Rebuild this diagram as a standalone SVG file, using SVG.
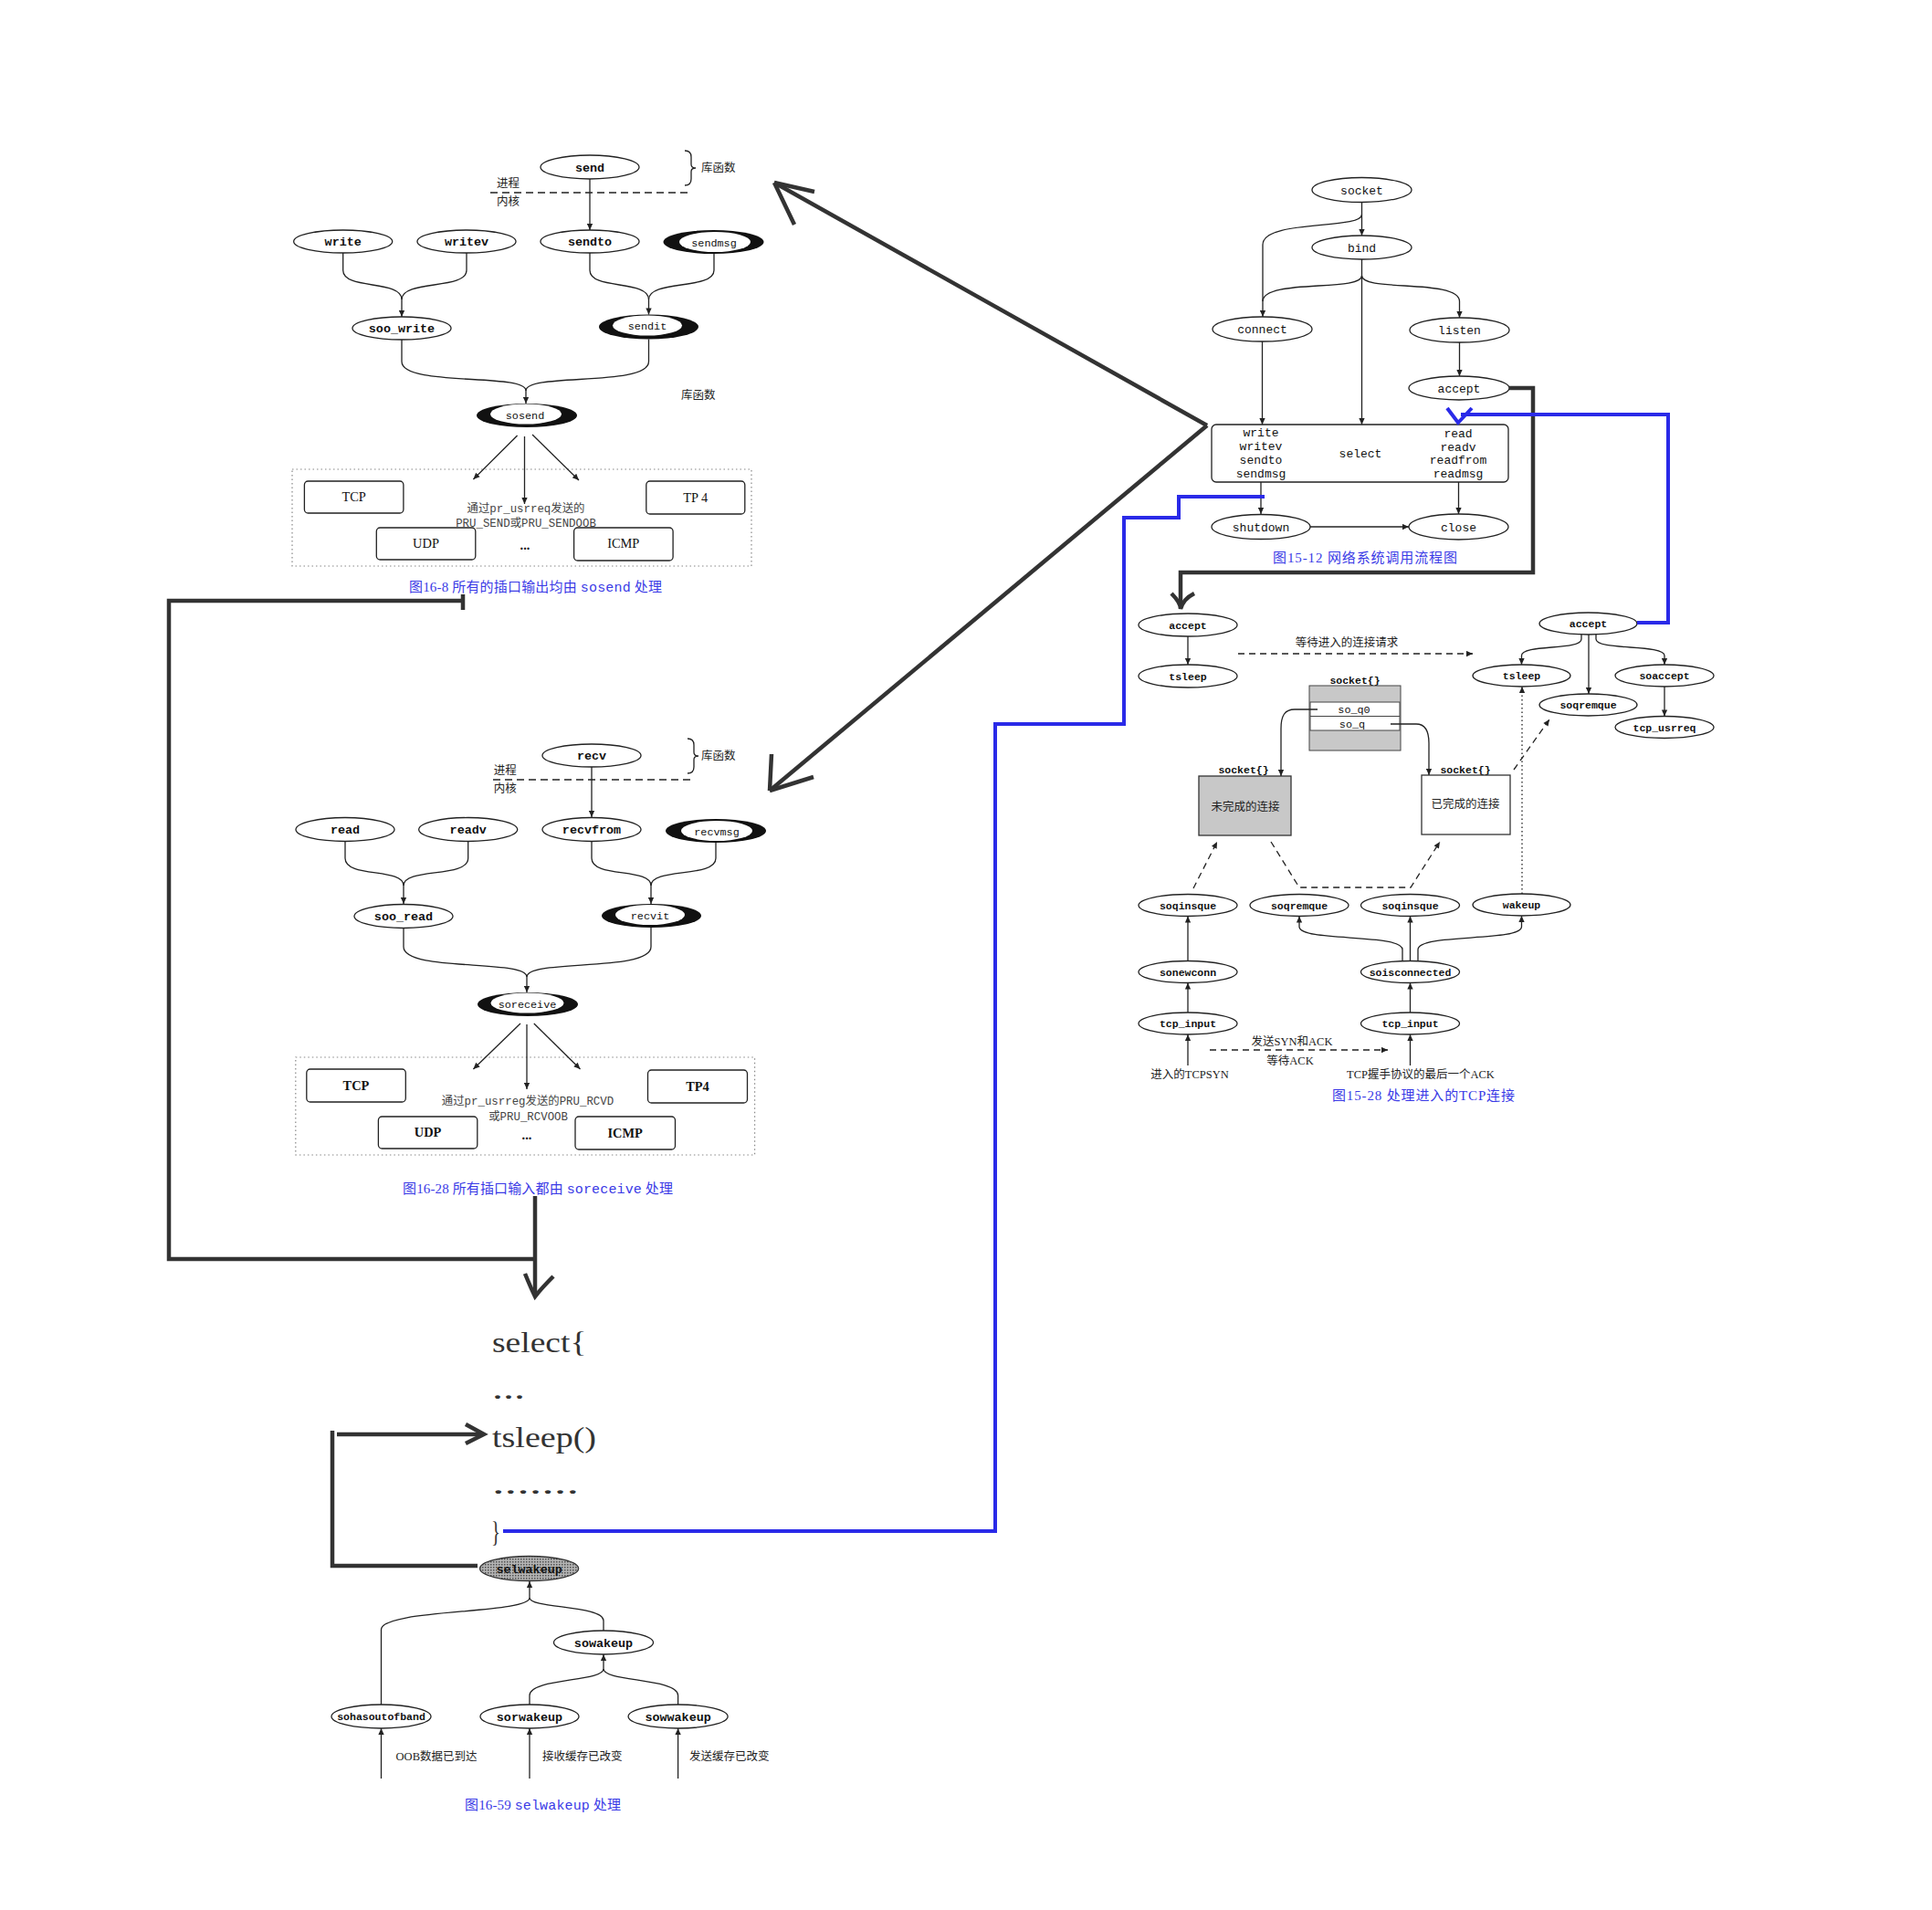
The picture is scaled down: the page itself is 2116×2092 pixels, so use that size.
<svg xmlns="http://www.w3.org/2000/svg" width="2116" height="2092" viewBox="0 0 2116 2092">
<defs>
<marker id="ah" viewBox="0 0 10 10" refX="10" refY="5" markerWidth="9" markerHeight="7" orient="auto" markerUnits="userSpaceOnUse"><path d="M0,0.5 L10,5 L0,9.5 z" fill="#222"/></marker>
<pattern id="grain" width="3" height="3" patternUnits="userSpaceOnUse"><rect width="3" height="3" fill="#b4b4b4"/><rect width="1.5" height="1.5" fill="#505050"/></pattern>
<style>
.e{fill:#fff;stroke:#222;stroke-width:1.3}
.dk{fill:#111}
.w{fill:#fff}
.l{fill:none;stroke:#222;stroke-width:1.3}
.la{fill:none;stroke:#222;stroke-width:1.3;marker-end:url(#ah)}
.da{fill:none;stroke:#222;stroke-width:1.3;stroke-dasharray:7,5;marker-end:url(#ah)}
.dot{fill:none;stroke:#888;stroke-width:1.2;stroke-dasharray:1.5,3}
.box{fill:#fff;stroke:#222;stroke-width:1.3}
.n{font-family:"Liberation Mono",monospace;font-size:13.4px;font-weight:bold;text-anchor:middle;fill:#111}
.nr{font-family:"Liberation Mono",monospace;font-size:13px;text-anchor:middle;fill:#111}
.ns{font-family:"Liberation Mono",monospace;font-size:11.5px;font-weight:bold;text-anchor:middle;fill:#111}
.nd{font-family:"Liberation Mono",monospace;font-size:11.8px;text-anchor:middle;fill:#111}
.cn{font-family:"Liberation Serif","Noto Sans CJK SC",serif;font-size:12.5px;fill:#222}
.cm{font-family:"Liberation Mono","Noto Sans CJK SC",monospace;font-size:12.4px;fill:#444;text-anchor:middle}
.pr{font-family:"Liberation Serif",serif;font-size:14.4px;text-anchor:middle;fill:#111}
.prb{font-family:"Liberation Serif",serif;font-size:14.4px;font-weight:bold;text-anchor:middle;fill:#111}
.cap{font-family:"Liberation Serif","Noto Sans CJK SC",serif;font-size:15px;fill:#3a3ae6;text-anchor:middle}
.capm{font-family:"Liberation Mono",monospace}
.code{font-family:"Liberation Serif",serif;font-size:31px;fill:#333}
.thick{fill:none;stroke:#333;stroke-width:4.5;stroke-linejoin:miter}
.blue{fill:none;stroke:#2a2ae8;stroke-width:4}
</style>
</defs>
<rect width="2116" height="2092" fill="#fff"/>

<!-- ================= Figure 16-8 ================= -->
<g id="fig16-8">
<path class="l" d="M537,211 H754" stroke-dasharray="8,5"/>
<path class="l" d="M750,165 Q757,165 757,172 V180 Q757,184 762,184 Q757,184 757,188 V196 Q757,203 750,203"/>
<text class="cn" x="768" y="188">库函数</text>
<text class="cn" x="544" y="205">进程</text>
<text class="cn" x="544" y="225">内核</text>
<text class="cn" x="746" y="437">库函数</text>
<rect class="dot" x="320" y="514" width="503" height="106"/>
<text class="cm" x="576" y="561">通过pr_usrreq发送的</text>
<text class="cm" x="576" y="577">PRU_SEND或PRU_SENDOOB</text>
<text class="pr" x="575" y="602" font-weight="bold">...</text>
<text class="cap" x="586.5" y="648" textLength="277" lengthAdjust="spacing">图16-8  所有的插口输出均由 <tspan class="capm">sosend</tspan>  处理</text>
</g>
<g id="n-send"><ellipse class="e" cx="646" cy="183" rx="54" ry="13"/><text class="n" x="646" y="187.5">send</text></g>
<g id="n-write"><ellipse class="e" cx="375.7" cy="264.5" rx="54" ry="12.5"/><text class="n" x="375.7" y="269">write</text></g>
<g id="n-writev"><ellipse class="e" cx="511" cy="264.5" rx="54" ry="12.5"/><text class="n" x="511" y="269">writev</text></g>
<g id="n-sendto"><ellipse class="e" cx="646" cy="264.5" rx="54" ry="12.5"/><text class="n" x="646" y="269">sendto</text></g>
<g id="n-sendmsg"><ellipse class="dk" cx="781.5" cy="265" rx="55" ry="13"/><ellipse class="w" cx="783" cy="265" rx="39" ry="11"/><text class="nd" x="782" y="269.5">sendmsg</text></g>
<g id="n-soo_write"><ellipse class="e" cx="440" cy="359.5" rx="54" ry="12.5"/><text class="n" x="440" y="364">soo_write</text></g>
<g id="n-sendit"><ellipse class="dk" cx="710.5" cy="358" rx="54.5" ry="13.5"/><ellipse class="w" cx="709" cy="356.5" rx="38" ry="11"/><text class="nd" x="709" y="361">sendit</text></g>
<g id="n-sosend"><ellipse class="dk" cx="577" cy="455" rx="55" ry="13"/><ellipse class="w" cx="576" cy="453.5" rx="39" ry="11"/><text class="nd" x="575" y="458.5">sosend</text></g>
<g id="n-tcp1"><rect class="box" x="333.4" y="527" width="108.5" height="35" rx="4"/><text class="pr" x="387.6" y="549">TCP</text></g>
<g id="n-tp41"><rect class="box" x="707.8" y="527" width="108" height="36" rx="4"/><text class="pr" x="761.8" y="549.5">TP 4</text></g>
<g id="n-udp1"><rect class="box" x="412.3" y="578" width="108.5" height="35" rx="4"/><text class="pr" x="466.5" y="600">UDP</text></g>
<g id="n-icmp1"><rect class="box" x="628.6" y="578" width="108.5" height="36" rx="4"/><text class="pr" x="682.8" y="600">ICMP</text></g>

<!-- ================= Figure 16-28 ================= -->
<g id="fig16-28">
<path class="l" d="M540,854 H757" stroke-dasharray="8,5"/>
<path class="l" d="M753,809 Q760,809 760,816 V824 Q760,828 765,828 Q760,828 760,832 V840 Q760,847 753,847"/>
<text class="cn" x="768" y="832">库函数</text>
<text class="cn" x="540.7" y="848">进程</text>
<text class="cn" x="540.7" y="868">内核</text>
<rect class="dot" x="323.8" y="1158" width="502.8" height="107"/>
<text class="cm" x="578" y="1210">通过pr_usrreg发送的PRU_RCVD</text>
<text class="cm" x="578.6" y="1227">或PRU_RCVOOB</text>
<text class="pr" x="577" y="1248" font-weight="bold">...</text>
<text class="cap" x="589" y="1307" textLength="296" lengthAdjust="spacing">图16-28  所有插口输入都由 <tspan class="capm">soreceive</tspan>  处理</text>
</g>
<g id="n-recv"><ellipse class="e" cx="648" cy="827.5" rx="54" ry="12.5"/><text class="n" x="648" y="832">recv</text></g>
<g id="n-read"><ellipse class="e" cx="378" cy="908.5" rx="54" ry="13"/><text class="n" x="378" y="913">read</text></g>
<g id="n-readv"><ellipse class="e" cx="512.7" cy="908.5" rx="54" ry="13"/><text class="n" x="512.7" y="913">readv</text></g>
<g id="n-recvfrom"><ellipse class="e" cx="648" cy="908.5" rx="54" ry="13"/><text class="n" x="648" y="913">recvfrom</text></g>
<g id="n-recvmsg"><ellipse class="dk" cx="784" cy="910" rx="55" ry="13"/><ellipse class="w" cx="785" cy="910" rx="39" ry="11"/><text class="nd" x="785" y="914.5">recvmsg</text></g>
<g id="n-soo_read"><ellipse class="e" cx="442" cy="1003.5" rx="54" ry="13"/><text class="n" x="442" y="1008">soo_read</text></g>
<g id="n-recvit"><ellipse class="dk" cx="713.5" cy="1003" rx="54.5" ry="13"/><ellipse class="w" cx="712" cy="1002" rx="38" ry="11"/><text class="nd" x="712" y="1006.5">recvit</text></g>
<g id="n-soreceive"><ellipse class="dk" cx="578" cy="1100" rx="55" ry="13"/><ellipse class="w" cx="577.5" cy="1098.5" rx="40" ry="11"/><text class="nd" x="577.5" y="1103.5">soreceive</text></g>
<g id="n-tcp2"><rect class="box" x="335.8" y="1171" width="108.5" height="36" rx="4"/><text class="prb" x="390" y="1194">TCP</text></g>
<g id="n-tp42"><rect class="box" x="709.5" y="1172" width="109" height="36" rx="4"/><text class="prb" x="764" y="1195">TP4</text></g>
<g id="n-udp2"><rect class="box" x="414.4" y="1223" width="108.4" height="35" rx="4"/><text class="prb" x="468.6" y="1245">UDP</text></g>
<g id="n-icmp2"><rect class="box" x="630" y="1223" width="109.5" height="36" rx="4"/><text class="prb" x="684.7" y="1245.5">ICMP</text></g>

<!-- ================= select code + 16-59 ================= -->
<g id="code">
<text class="code" x="539" y="1481" textLength="103.5" lengthAdjust="spacingAndGlyphs">select{</text>
<text class="code" x="539" y="1532" textLength="36" lengthAdjust="spacingAndGlyphs">...</text>
<text class="code" x="539" y="1585" textLength="114" lengthAdjust="spacingAndGlyphs">tsleep()</text>
<text class="code" x="539" y="1636" textLength="95" lengthAdjust="spacingAndGlyphs">.......</text>
<text class="code" x="538" y="1689" textLength="10" lengthAdjust="spacingAndGlyphs">}</text>
<text class="cap" x="594.5" y="1982" textLength="171" lengthAdjust="spacing">图16-59   <tspan class="capm">selwakeup</tspan>   处理</text>
<text class="cn" x="433.6" y="1928" font-size="13.5">OOB数据已到达</text>
<text class="cn" x="594" y="1928" font-size="13.5">接收缓存已改变</text>
<text class="cn" x="755" y="1928" font-size="13.5">发送缓存已改变</text>
</g>
<g id="n-selwakeup"><ellipse cx="579.6" cy="1718" rx="54" ry="13.5" fill="url(#grain)" stroke="#333" stroke-width="1.3"/><text class="n" x="579.6" y="1722.5">selwakeup</text></g>
<g id="n-sowakeup"><ellipse class="e" cx="661" cy="1799" rx="54.5" ry="13"/><text class="n" x="661" y="1803.5">sowakeup</text></g>
<g id="n-sohasoutofband"><ellipse class="e" cx="417.5" cy="1880" rx="54.5" ry="13"/><text class="ns" x="417.5" y="1884" font-size="12">sohasoutofband</text></g>
<g id="n-sorwakeup"><ellipse class="e" cx="580" cy="1880" rx="54" ry="13"/><text class="n" x="580" y="1884.5">sorwakeup</text></g>
<g id="n-sowwakeup"><ellipse class="e" cx="742.6" cy="1880" rx="54.5" ry="13"/><text class="n" x="742.6" y="1884.5">sowwakeup</text></g>

<!-- ================= Figure 15-12 ================= -->
<g id="fig15-12">
<text class="cap" x="1495" y="616" textLength="202" lengthAdjust="spacing">图15-12   网络系统调用流程图</text>
</g>
<g id="n-socket"><ellipse class="e" cx="1491.5" cy="208" rx="54.5" ry="13.5"/><text class="nr" x="1491.5" y="212.5">socket</text></g>
<g id="n-bind"><ellipse class="e" cx="1491.5" cy="271" rx="54.5" ry="13"/><text class="nr" x="1491.5" y="275.5">bind</text></g>
<g id="n-connect"><ellipse class="e" cx="1382.5" cy="360.5" rx="54.5" ry="13.5"/><text class="nr" x="1382.5" y="365">connect</text></g>
<g id="n-listen"><ellipse class="e" cx="1598.5" cy="361.5" rx="54.5" ry="13.5"/><text class="nr" x="1598.5" y="366">listen</text></g>
<g id="n-accept0"><ellipse class="e" cx="1598" cy="425" rx="55" ry="13"/><text class="nr" x="1598" y="429.5">accept</text></g>
<g id="n-iobox"><rect class="box" x="1327" y="465" width="325" height="63" rx="5"/>
<text class="nr" x="1381" y="477.5">write</text><text class="nr" x="1381" y="492.5">writev</text><text class="nr" x="1381" y="507.5">sendto</text><text class="nr" x="1381" y="522.5">sendmsg</text>
<text class="nr" x="1490" y="500.5">select</text>
<text class="nr" x="1597" y="478.5">read</text><text class="nr" x="1597" y="493.5">readv</text><text class="nr" x="1597" y="508">readfrom</text><text class="nr" x="1597" y="523">readmsg</text>
</g>
<g id="n-shutdown"><ellipse class="e" cx="1381" cy="577" rx="54" ry="13.5"/><text class="nr" x="1381" y="581.5">shutdown</text></g>
<g id="n-close"><ellipse class="e" cx="1597.5" cy="577" rx="54.5" ry="14"/><text class="nr" x="1597.5" y="581.5">close</text></g>

<!-- ================= Figure 15-28 ================= -->
<g id="fig15-28">
<text class="cn" x="1475" y="708" text-anchor="middle">等待进入的连接请求</text>
<text class="cn" x="1415" y="1145" text-anchor="middle">发送SYN和ACK</text>
<text class="cn" x="1413" y="1166" text-anchor="middle">等待ACK</text>
<text class="cn" x="1303" y="1181" text-anchor="middle">进入的TCPSYN</text>
<text class="cn" x="1556" y="1181" text-anchor="middle">TCP握手协议的最后一个ACK</text>
<text class="cap" x="1559" y="1205" textLength="200" lengthAdjust="spacing">图15-28   处理进入的TCP连接</text>
</g>
<g id="n-acceptL"><ellipse class="e" cx="1301" cy="684.5" rx="54" ry="12.5"/><text class="ns" x="1301" y="688.5">accept</text></g>
<g id="n-tsleepL"><ellipse class="e" cx="1301" cy="740.5" rx="54" ry="12.5"/><text class="ns" x="1301" y="744.5">tsleep</text></g>
<g id="n-acceptR"><ellipse class="e" cx="1739.5" cy="683" rx="53.5" ry="12"/><text class="ns" x="1739.5" y="687">accept</text></g>
<g id="n-tsleepR"><ellipse class="e" cx="1666.5" cy="740" rx="53.5" ry="12"/><text class="ns" x="1666.5" y="744">tsleep</text></g>
<g id="n-soqremqueR"><ellipse class="e" cx="1739.5" cy="772" rx="53.5" ry="12"/><text class="ns" x="1739.5" y="776">soqremque</text></g>
<g id="n-soaccept"><ellipse class="e" cx="1823" cy="740" rx="54" ry="12"/><text class="ns" x="1823" y="744">soaccept</text></g>
<g id="n-tcp_usrreq"><ellipse class="e" cx="1823" cy="796.5" rx="54" ry="12"/><text class="ns" x="1823" y="800.5">tcp_usrreq</text></g>
<g id="n-sockstruct">
<text class="ns" x="1484" y="749">socket{}</text>
<rect x="1434" y="751" width="100" height="71" fill="#c8c8c8" stroke="#444" stroke-width="1"/>
<rect x="1435" y="769" width="98" height="31" fill="#fff" stroke="#444" stroke-width="1"/>
<line x1="1435" y1="784.5" x2="1533" y2="784.5" stroke="#444" stroke-width="1"/>
<text class="nd" x="1483" y="781" font-size="11.5">so_q0</text>
<text class="nd" x="1481" y="797" font-size="11.5">so_q</text>
</g>
<g id="n-incomplete"><text class="ns" x="1362" y="847">socket{}</text><rect x="1313" y="850" width="101" height="65" fill="#c8c8c8" stroke="#333" stroke-width="1.3"/><text class="cn" x="1364" y="887.5" text-anchor="middle">未完成的连接</text></g>
<g id="n-complete"><text class="ns" x="1605" y="847">socket{}</text><rect x="1557" y="849" width="97" height="65" fill="#fff" stroke="#333" stroke-width="1.3"/><text class="cn" x="1605" y="885" text-anchor="middle">已完成的连接</text></g>
<g id="n-soqinsqueL"><ellipse class="e" cx="1301" cy="991.5" rx="54" ry="12"/><text class="ns" x="1301" y="995.5">soqinsque</text></g>
<g id="n-soqremqueM"><ellipse class="e" cx="1423" cy="991.5" rx="54" ry="12"/><text class="ns" x="1423" y="995.5">soqremque</text></g>
<g id="n-soqinsqueM"><ellipse class="e" cx="1544.5" cy="991.5" rx="54" ry="12"/><text class="ns" x="1544.5" y="995.5">soqinsque</text></g>
<g id="n-wakeup"><ellipse class="e" cx="1666.5" cy="991" rx="53.5" ry="12"/><text class="ns" x="1666.5" y="995">wakeup</text></g>
<g id="n-sonewconn"><ellipse class="e" cx="1301" cy="1064.5" rx="54" ry="12"/><text class="ns" x="1301" y="1068.5">sonewconn</text></g>
<g id="n-soisconnected"><ellipse class="e" cx="1544.5" cy="1064.5" rx="54" ry="12"/><text class="ns" x="1544.5" y="1068.5">soisconnected</text></g>
<g id="n-tcp_inputL"><ellipse class="e" cx="1301" cy="1121" rx="54" ry="12"/><text class="ns" x="1301" y="1125">tcp_input</text></g>
<g id="n-tcp_inputR"><ellipse class="e" cx="1544.5" cy="1121" rx="54" ry="12"/><text class="ns" x="1544.5" y="1125">tcp_input</text></g>

<!-- ================= Connectors ================= -->
<g id="connectors">
<!-- 16-8 -->
<path class="la" d="M646,196 V252"/>
<path class="l" d="M375.7,277 V296 C375.7,318 440,306 440,328"/>
<path class="la" d="M511,277 V296 C511,318 440,306 440,328 V347"/>
<path class="l" d="M646,277 V296 C646,318 710.5,306 710.5,328"/>
<path class="la" d="M782,278 V296 C782,318 710.5,306 710.5,328 V344.5"/>
<path class="l" d="M440,372 V396 C440,424 576,408 576,428"/>
<path class="la" d="M710.5,371.5 V396 C710.5,424 576,408 576,428 V442"/>
<path class="la" d="M566.6,477 L518.4,525"/>
<path class="la" d="M574.5,478 V552"/>
<path class="la" d="M583,476 L634,526"/>
<!-- 16-28 -->
<path class="la" d="M648,840 V895"/>
<path class="l" d="M378,921.5 V940 C378,962 442,950 442,970"/>
<path class="la" d="M512.7,921.5 V940 C512.7,962 442,950 442,970 V990"/>
<path class="l" d="M648,921.5 V940 C648,962 713,950 713,970"/>
<path class="la" d="M784,923 V940 C784,962 713,950 713,970 V990"/>
<path class="l" d="M442,1016.5 V1037 C442,1065 577,1050 577,1070"/>
<path class="la" d="M713,1016 V1037 C713,1065 577,1050 577,1070 V1087"/>
<path class="la" d="M570,1121 L518.4,1171"/>
<path class="la" d="M577,1122 V1193"/>
<path class="la" d="M584.8,1121 L635.5,1171"/>
<!-- 16-59 -->
<path class="l" d="M417.5,1867 V1785 C417.5,1762 580,1768 580,1750"/>
<path class="la" d="M661,1786 V1775 C661,1758 580,1762 580,1750 V1732"/>
<path class="l" d="M580,1867 V1857 C580,1838 661,1842 661,1828"/>
<path class="la" d="M742.6,1867 V1857 C742.6,1838 661,1842 661,1828 V1812"/>
<path class="la" d="M417.5,1948 V1893"/>
<path class="la" d="M580,1948 V1893"/>
<path class="la" d="M742.6,1948 V1893"/>
<!-- 15-12 -->
<path class="la" d="M1491.5,222 V258"/>
<path class="l" d="M1491.5,235 C1491.5,252 1383,240 1383,268 V330"/>
<path class="la" d="M1491.5,284 V302 C1491.5,320 1383,305 1383,330 V347"/>
<path class="la" d="M1491.5,302 C1491.5,320 1598.5,305 1598.5,330 V348"/>
<path class="la" d="M1491.5,302 V465"/>
<path class="la" d="M1382.5,374 V465"/>
<path class="la" d="M1598.5,375 V412"/>
<path class="la" d="M1381,528 V563"/>
<path class="la" d="M1597.5,528 V563"/>
<path class="la" d="M1435,577 H1543"/>
<!-- 15-28 -->
<path class="la" d="M1301,697 V728"/>
<path class="da" d="M1356,716 H1613"/>
<path class="la" d="M1732,695 V700 C1732,713 1666.5,705 1666.5,718 V728"/>
<path class="la" d="M1740,695 V760"/>
<path class="la" d="M1748,695 V700 C1748,713 1823,705 1823,718 V728"/>
<path class="la" d="M1823,752 V784.5"/>
<path class="la" d="M1443,777 H1418 C1407,777 1403,784 1403,798 V850"/>
<path class="la" d="M1523,793 H1551 C1561,793 1565,800 1565,814 V849"/>
<path class="da" d="M1307,973 L1333,922"/>
<path class="da" d="M1392,922 L1423,972 H1545 L1577,922"/>
<path class="da" d="M1658,843 L1697,788"/>
<path class="la" d="M1667,979 V752" stroke-dasharray="1.5,3"/>
<path class="la" d="M1301,1167 V1133"/>
<path class="la" d="M1301,1109 V1076.5"/>
<path class="la" d="M1301,1052.5 V1003.5"/>
<path class="la" d="M1544.5,1167 V1133"/>
<path class="la" d="M1544.5,1109 V1076.5"/>
<path class="la" d="M1544.5,1052.5 V1003.5"/>
<path class="la" d="M1536,1053 V1040 C1536,1022 1423,1032 1423,1015 V1003.5"/>
<path class="la" d="M1553,1053 V1040 C1553,1022 1666.5,1032 1666.5,1015 V1003"/>
<path class="da" d="M1325,1150 H1520"/>
<!-- thick hand-drawn links -->
<path class="thick" d="M1322,466 L848,200"/>
<path class="thick" d="M848,200 L892,210 M848,200 L870,246"/>
<path class="thick" d="M1322,466 L843,866"/>
<path class="thick" d="M843,866 L891,851 M843,866 L845,826"/>
<path class="thick" d="M1653,425 H1679 V627 H1293 V664"/>
<path class="thick" d="M1283,650 Q1293,660 1293,667 Q1296,656 1308,650"/>
<path class="thick" d="M507,651 V668 M507,658 H185 V1379 H586"/>
<path class="thick" d="M586,1310 V1418"/>
<path class="thick" d="M575,1395 Q582,1412 586,1420 Q594,1410 606,1398"/>
<path class="thick" d="M523,1715 H364 V1567"/>
<path class="thick" d="M369,1571 H528"/>
<path class="thick" d="M510,1560 L530,1571 L510,1581"/>
<!-- blue links -->
<path class="blue" d="M551,1677 H1090 V793 H1231 V567 H1291 V544 H1385"/>
<path class="blue" d="M1793,682 H1827 V454 H1600"/>
<path class="blue" d="M1585,447 L1597,463 L1612,447"/>
</g>
</svg>
